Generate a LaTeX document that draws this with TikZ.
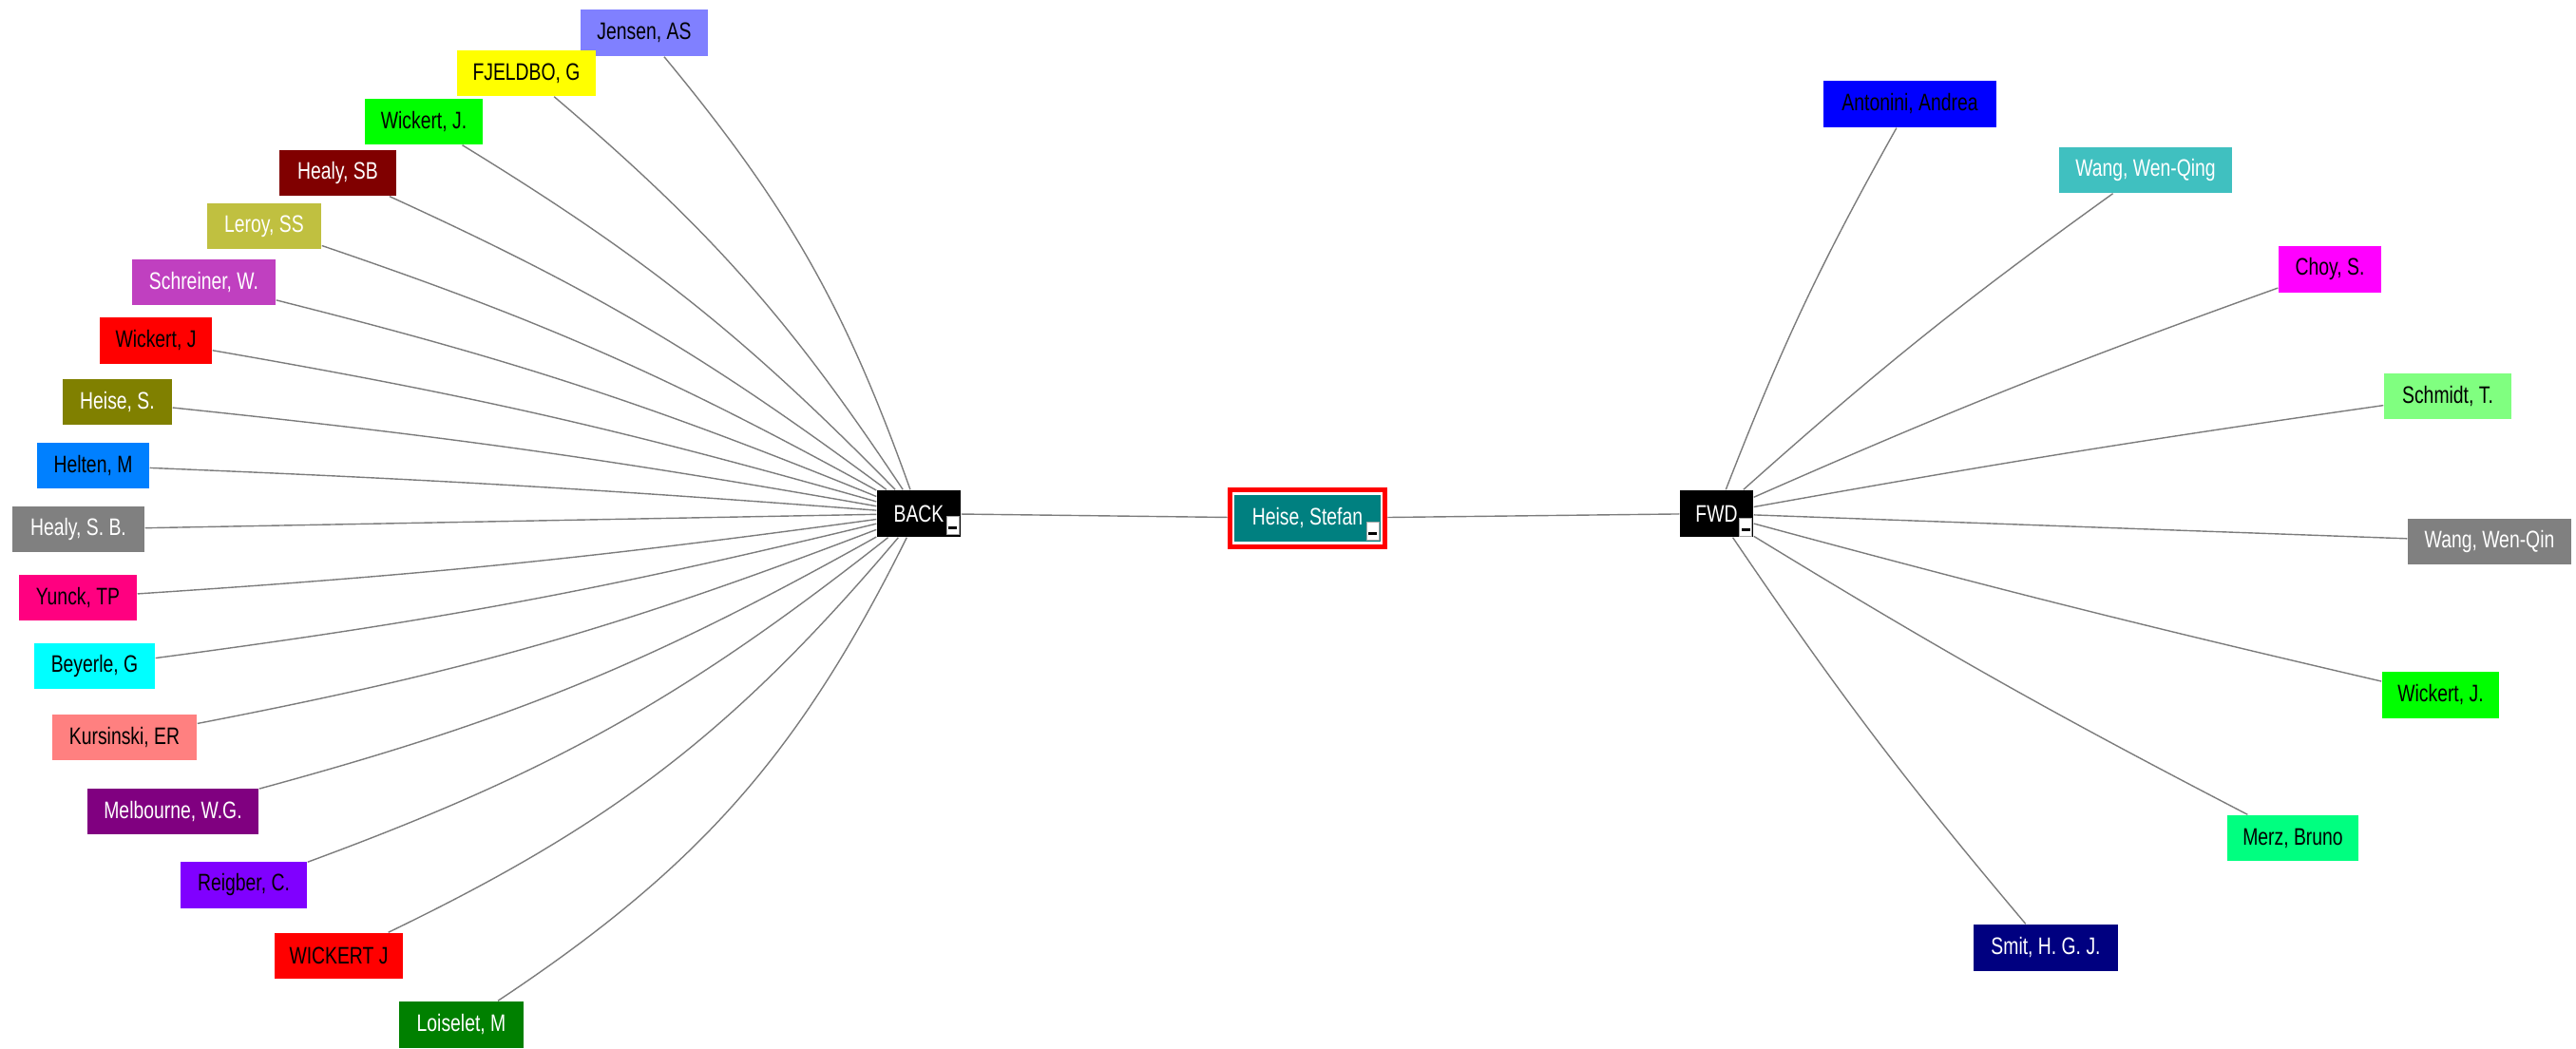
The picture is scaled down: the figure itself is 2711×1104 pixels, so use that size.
\documentclass[tikz,border=0pt]{standalone}
\usepackage{fontspec}
\newfontfamily\lab[FakeStretch=0.77]{Liberation Sans}
\usetikzlibrary{fit}
\definecolor{edgegray}{HTML}{7C7C7C}
\definecolor{cJensen}{HTML}{8080FF}
\definecolor{cFjeldbo}{HTML}{FFFF00}
\definecolor{cGreen}{HTML}{00FF00}
\definecolor{cMaroon}{HTML}{800000}
\definecolor{cLeroy}{HTML}{C0C040}
\definecolor{cSchreiner}{HTML}{C040C0}
\definecolor{cRed}{HTML}{FF0000}
\definecolor{cOlive}{HTML}{808000}
\definecolor{cHelten}{HTML}{0080FF}
\definecolor{cGray}{HTML}{808080}
\definecolor{cYunck}{HTML}{FF0080}
\definecolor{cCyan}{HTML}{00FFFF}
\definecolor{cKursinski}{HTML}{FF8080}
\definecolor{cPurple}{HTML}{800080}
\definecolor{cViolet}{HTML}{8000FF}
\definecolor{cDkGreen}{HTML}{008000}
\definecolor{cBlue}{HTML}{0000FF}
\definecolor{cTealLt}{HTML}{40C0C0}
\definecolor{cMagenta}{HTML}{FF00FF}
\definecolor{cLtGreen}{HTML}{80FF80}
\definecolor{cSpring}{HTML}{00FF80}
\definecolor{cNavy}{HTML}{000080}
\definecolor{cTeal}{HTML}{008080}
\begin{document}
\begin{tikzpicture}[x=0.01cm, y=-0.01cm,
  lbl/.style={rectangle, inner sep=0pt, minimum height=0.48cm,
    font=\lab\fontsize{7.15pt}{8pt}\selectfont, text=black},
  wt/.style={text=white},
  hub/.style={lbl, fill=black, text=white, minimum height=0.49cm},
  edge/.style={draw=edgegray, line width=0.014cm},
  minusicon/.style={rectangle, fill=white, draw=gray!70, line width=0.004cm,
    inner sep=0pt, minimum width=0.13cm, minimum height=0.19cm, anchor=south east,
    path picture={\fill[black]
      ([xshift=-0.045cm,yshift=-0.01cm]path picture bounding box.center) rectangle
      ([xshift=0.045cm,yshift=-0.04cm]path picture bounding box.center);}}
]
\useasboundingbox (0,0) rectangle (2711,1104);

% hubs
\node[hub, minimum width=0.88cm] (back) at (967,540.5) {BACK};
\node[minusicon] (backicon) at ([shift={(-2.5,-3)}]back.south east) {};
\node[hub, minimum width=0.77cm] (fwd) at (1806.5,540.5) {FWD};
\node[minusicon] (fwdicon) at ([shift={(-2,-1.5)}]fwd.south east) {};
\node[lbl, fill=cTeal, wt, draw=white, line width=0.015cm, minimum width=1.55cm, minimum height=0.51cm] (heise) at (1376,545.5) {Heise, Stefan};
\node[minusicon] (heiseicon) at ([shift={(-3,-3)}]heise.south east) {};
\node[draw=red, line width=0.05cm, inner sep=0.035cm, fit=(heise)] (heiseframe) {};

% left nodes
\node[lbl, fill=cJensen, minimum width=1.34cm, minimum height=0.49cm] (jensen) at (678,34.5) {Jensen, AS};
\node[lbl, fill=cFjeldbo, minimum width=1.46cm] (fjeldbo) at (554,77) {FJELDBO, G};
\node[lbl, fill=cGreen, minimum width=1.24cm] (wickertA) at (446,128) {Wickert, J.};
\node[lbl, fill=cMaroon, wt, minimum width=1.23cm] (healySB) at (355.5,182) {Healy, SB};
\node[lbl, fill=cLeroy, wt, minimum width=1.20cm] (leroy) at (278,238) {Leroy, SS};
\node[lbl, fill=cSchreiner, wt, minimum width=1.51cm] (schreiner) at (214.5,297) {Schreiner, W.};
\node[lbl, fill=cRed, minimum width=1.18cm, minimum height=0.49cm] (wickertB) at (164,358.5) {Wickert, J};
\node[lbl, fill=cOlive, wt, minimum width=1.15cm] (heiseS) at (123.5,423) {Heise, S.};
\node[lbl, fill=cHelten, minimum width=1.18cm] (helten) at (98,490) {Helten, M};
\node[lbl, fill=cGray, wt, minimum width=1.39cm] (healySB2) at (82.5,557) {Healy, S. B.};
\node[lbl, fill=cYunck, minimum width=1.24cm] (yunck) at (82,629) {Yunck, TP};
\node[lbl, fill=cCyan, minimum width=1.27cm] (beyerle) at (99.5,701) {Beyerle, G};
\node[lbl, fill=cKursinski, minimum width=1.52cm] (kursinski) at (131,776) {Kursinski, ER};
\node[lbl, fill=cPurple, wt, minimum width=1.80cm] (melbourne) at (182,854) {Melbourne, W.G.};
\node[lbl, fill=cViolet, minimum width=1.33cm, minimum height=0.49cm] (reigber) at (256.5,931.5) {Reigber, C.};
\node[lbl, fill=cRed, minimum width=1.35cm] (wickertC) at (356.5,1006) {WICKERT J};
\node[lbl, fill=cDkGreen, wt, minimum width=1.31cm, minimum height=0.49cm] (loiselet) at (485.5,1078.5) {Loiselet, M};

% right nodes
\node[lbl, fill=cBlue, minimum width=1.82cm, minimum height=0.49cm] (antonini) at (2010,109.5) {Antonini, Andrea};
\node[lbl, fill=cTealLt, wt, minimum width=1.82cm] (wangQing) at (2258,179) {Wang, Wen-Qing};
\node[lbl, fill=cMagenta, minimum width=1.08cm, minimum height=0.49cm] (choy) at (2452,283.5) {Choy, S.};
\node[lbl, fill=cLtGreen, minimum width=1.34cm] (schmidt) at (2576,417) {Schmidt, T.};
\node[lbl, fill=cGray, wt, minimum width=1.72cm] (wangQin) at (2620,570) {Wang, Wen-Qin};
\node[lbl, fill=cGreen, minimum width=1.23cm, minimum height=0.49cm] (wickertD) at (2568.5,731.5) {Wickert, J.};
\node[lbl, fill=cSpring, minimum width=1.38cm] (merz) at (2413,882) {Merz, Bruno};
\node[lbl, fill=cNavy, wt, minimum width=1.52cm, minimum height=0.49cm] (smit) at (2153,997.5) {Smit, H. G. J.};

% central connectors
\draw[edge] (back) -- (heiseframe);
\draw[edge] (heiseframe) -- (fwd);

% left connectors
\draw[edge] (back) to[bend right=10] (jensen);
\draw[edge] (back) to[bend right=8] (fjeldbo);
\draw[edge] (back) to[bend right=7] (wickertA);
\draw[edge] (back) to[bend right=6] (healySB);
\draw[edge] (back) to[bend right=5] (leroy);
\draw[edge] (back) to[bend right=4] (schreiner);
\draw[edge] (back) to[bend right=3] (wickertB);
\draw[edge] (back) to[bend right=2] (heiseS);
\draw[edge] (back) to[bend right=1] (helten);
\draw[edge] (back) -- (healySB2);
\draw[edge] (back) to[bend left=2] (yunck);
\draw[edge] (back) to[bend left=3] (beyerle);
\draw[edge] (back) to[bend left=5] (kursinski);
\draw[edge] (back) to[bend left=7] (melbourne);
\draw[edge] (back) to[bend left=9] (reigber);
\draw[edge] (back) to[bend left=12] (wickertC);
\draw[edge] (back) to[bend left=15] (loiselet);

% right connectors
\draw[edge] (fwd) to[bend left=4] (antonini);
\draw[edge] (fwd) to[bend left=3] (wangQing);
\draw[edge] (fwd) to[bend left=2] (choy);
\draw[edge] (fwd) to[bend left=1] (schmidt);
\draw[edge] (fwd) -- (wangQin);
\draw[edge] (fwd) to[bend right=1] (wickertD);
\draw[edge] (fwd) to[bend right=2] (merz);
\draw[edge] (fwd) to[bend right=3] (smit);
\end{tikzpicture}
\end{document}
